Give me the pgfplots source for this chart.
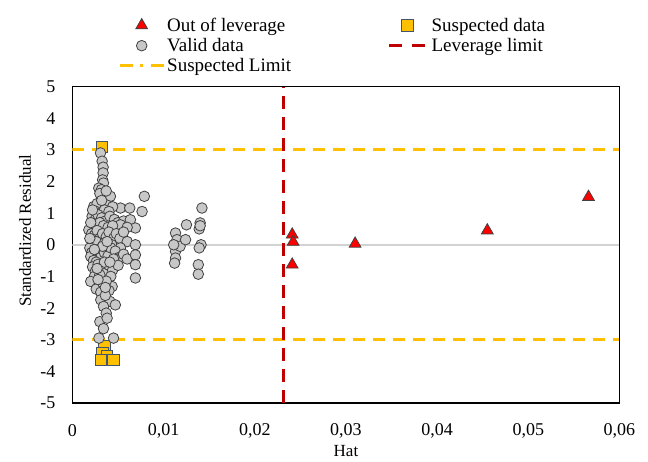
\documentclass[border=0pt]{standalone}
\usepackage{fontspec}
\setmainfont{Liberation Serif}
\usepackage{pgfplots}
\pgfplotsset{compat=1.18}

\definecolor{validfill}{RGB}{200,200,200}
\definecolor{markedge}{RGB}{64,64,64}
\definecolor{suspfill}{RGB}{255,192,0}
\definecolor{suspedge}{RGB}{68,84,106}
\definecolor{levred}{RGB}{192,0,0}
\definecolor{zeroline}{RGB}{210,210,210}

\pgfplotsset{
  validstyle/.style={only marks, mark=*, mark size=5.3pt,
    mark options={fill=validfill, draw=markedge, line width=0.8pt}},
  outstyle/.style={only marks, mark=triangle*, mark size=6.8pt,
    mark options={fill=red, draw=markedge, line width=0.8pt}},
  suspstyle/.style={only marks, mark=square*, mark size=5.7pt,
    mark options={fill=suspfill, draw=suspedge, line width=0.8pt}},
  markimage/.style={legend image code/.code={
    \path (0pt,0pt) (44pt,0pt);
    \draw[##1] plot coordinates {(22pt,0pt)};}},
}

\begin{document}
\begin{tikzpicture}
\path[use as bounding box] (-72.5pt,-58pt) rectangle (575.5pt,403pt);
\begin{axis}[
  at={(0pt,0pt)}, anchor=south west,
  scale only axis, width=547pt, height=316.5pt,
  xmin=0, xmax=0.06, ymin=-5, ymax=5,
  xtick={0,0.01,0.02,0.03,0.04,0.05,0.06},
  xticklabels={0,{0,01},{0,02},{0,03},{0,04},{0,05},{0,06}},
  ytick={-5,-4,-3,-2,-1,0,1,2,3,4,5},
  /pgf/number format/assume math mode=true,
  major tick length=0pt,
  axis line style={line width=1.8pt},
  tick label style={font=\fontsize{18}{21}\selectfont},
  xticklabel style={anchor=center, inner sep=0pt, yshift=-28pt},
  yticklabel style={anchor=east, inner sep=0pt, xshift=-17pt},
  xlabel={Hat},
  ylabel={Standardized Residual},
  every axis x label/.style={at={([yshift=-48pt]axis description cs:0.5,0)},
    anchor=center, font=\fontsize{17}{20}\selectfont},
  every axis y label/.style={at={([xshift=-47.5pt,yshift=14pt]axis description cs:0,0.5)},
    rotate=90, anchor=center, font=\fontsize{17}{20}\selectfont},
  legend columns=2,
  legend cell align=left,
  legend style={draw=none, fill=none, inner sep=0pt, row sep=1.5pt,
    at={(0.0832,1.2235)}, anchor=north west,
    font=\fontsize{19}{21}\selectfont,
    nodes={inner sep=2pt},
    /tikz/every even column/.append style={column sep=92pt}},
]

% legend entries
\addlegendimage{outstyle, markimage}
\addlegendentry{Out of leverage}
\addlegendimage{suspstyle, markimage}
\addlegendentry{Suspected data}
\addlegendimage{validstyle, markimage}
\addlegendentry{Valid data}
\addlegendimage{legend image code/.code={
  \draw[levred, line width=3pt, dash pattern=on 13pt off 10pt] (4pt,0pt) -- (40pt,0pt);}}
\addlegendentry{Leverage limit}
\addlegendimage{legend image code/.code={
  \draw[suspfill, line width=3pt, dash pattern=on 13pt off 7.5pt on 3pt off 7.5pt] (0pt,0pt) -- (44pt,0pt);}}
\addlegendentry{Suspected Limit}

% reference lines
\addplot[zeroline, line width=1.5pt, forget plot] coordinates {(0,0) (0.06,0)};
\addplot[suspfill, line width=3pt, dash pattern=on 12pt off 8pt, forget plot]
  coordinates {(0,3) (0.06,3)};
\addplot[suspfill, line width=3pt, dash pattern=on 12pt off 8pt, forget plot]
  coordinates {(0,-3) (0.06,-3)};
\addplot[levred, line width=3pt, dash pattern=on 13pt off 8pt, forget plot]
  coordinates {(0.0231,-5) (0.0231,5)};

% suspected observations
\addplot[suspstyle, forget plot] table {
x y
0.00320 3.10
0.00350 -3.20
0.00330 -3.43
0.00380 -3.53
0.00310 -3.64
0.00450 -3.64
};

% valid observations
\addplot[validstyle, forget plot] table {
x y
0.00307 2.90
0.00325 2.64
0.00336 2.45
0.00336 2.27
0.00330 2.05
0.00340 1.95
0.00288 1.79
0.00318 1.74
0.00416 1.53
0.00300 1.62
0.00370 1.70
0.00788 1.53
0.00763 1.05
0.00526 1.16
0.00628 1.16
0.00233 1.21
0.00336 1.16
0.00270 1.30
0.00380 1.25
0.00440 1.20
0.00260 1.05
0.00310 1.00
0.00350 1.10
0.00400 1.05
0.00215 0.90
0.00250 0.80
0.00280 0.95
0.00320 0.85
0.00360 0.75
0.00410 0.90
0.00460 0.80
0.00500 0.70
0.00560 0.75
0.00635 0.79
0.00526 0.63
0.00690 0.53
0.00600 0.55
0.00250 0.53
0.00179 0.47
0.00230 0.65
0.00270 0.55
0.00300 0.70
0.00340 0.60
0.00390 0.55
0.00440 0.60
0.00200 0.70
0.00210 0.35
0.00240 0.30
0.00270 0.45
0.00300 0.20
0.00330 0.35
0.00370 0.25
0.00400 0.40
0.00452 0.21
0.00480 0.35
0.00520 0.20
0.00560 0.40
0.00600 0.10
0.00230 0.05
0.00260 0.10
0.00350 0.05
0.00430 0.00
0.00690 0.00
0.00526 -0.10
0.00190 -0.10
0.00210 -0.25
0.00240 -0.30
0.00280 -0.15
0.00310 -0.40
0.00350 -0.25
0.00390 -0.35
0.00420 -0.10
0.00470 -0.20
0.00510 -0.40
0.00526 -0.42
0.00560 -0.30
0.00600 -0.45
0.00690 -0.32
0.00200 -0.37
0.00230 -0.50
0.00330 -0.05
0.00450 -0.45
0.00260 -0.55
0.00220 -0.70
0.00250 -0.85
0.00280 -0.62
0.00320 -0.75
0.00360 -0.90
0.00400 -0.65
0.00440 -0.80
0.00240 -1.00
0.00300 -0.95
0.00350 -0.55
0.00420 -1.00
0.00690 -0.63
0.00500 -0.65
0.00270 -0.75
0.00200 -1.16
0.00290 -1.27
0.00435 -1.32
0.00260 -1.40
0.00330 -1.20
0.00370 -1.15
0.00400 -1.45
0.00690 -1.05
0.00310 -1.50
0.00310 -1.74
0.00410 -1.79
0.00470 -1.90
0.00360 -1.60
0.00340 -1.95
0.00370 -2.16
0.00300 -2.43
0.00380 -2.32
0.00340 -2.65
0.00290 -2.95
0.00450 -2.95
0.00220 1.10
0.00240 -0.15
0.00380 0.10
0.00280 -1.10
0.00320 1.40
0.00410 -0.55
0.00190 0.20
0.00360 -1.35
0.01130 0.37
0.01146 0.16
0.01130 -0.21
0.01130 -0.42
0.01120 -0.58
0.01180 -0.05
0.01240 0.16
0.01250 0.63
0.01420 1.16
0.01400 0.69
0.01390 0.50
0.01410 0.00
0.01390 -0.10
0.01380 -0.63
0.01380 -0.93
0.01110 0.00
0.01400 0.60
};

% observations beyond the leverage limit
\addplot[outstyle, forget plot] table {
x y
0.0241 0.32
0.0242 0.09
0.0241 -0.63
0.0310 0.03
0.0455 0.45
0.0566 1.51
};

\end{axis}
\end{tikzpicture}
\end{document}
